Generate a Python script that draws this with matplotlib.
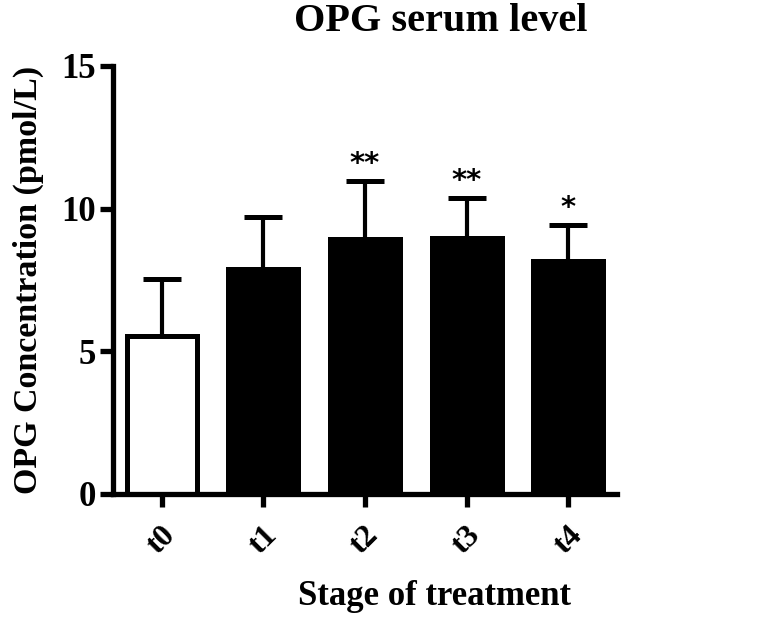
import matplotlib.pyplot as plt

# values
stages = ["t0", "t1", "t2", "t3", "t4"]
means = [5.55, 7.9, 8.95, 8.98, 8.17]
sd_upper = [2.0, 1.82, 2.02, 1.38, 1.26]
marks = ["", "", "**", "**", "*"]
fills = ["white", "black", "black", "black", "black"]

plt.rcParams["font.family"] = "Liberation Serif"
plt.rcParams["font.weight"] = "bold"

fig = plt.figure(figsize=(7.6, 6.19), dpi=100)
ax = fig.add_axes([113 / 760, 125 / 619, (617 - 113) / 760, (494 - 66) / 619])

x = list(range(len(stages)))
ax.bar(x, means, width=0.69, color=fills, edgecolor="black", linewidth=3.6, zorder=2)
ax.errorbar(x, means, yerr=[[0] * len(x), sd_upper], fmt="none", ecolor="black",
            elinewidth=3, capsize=13.5, capthick=3.6, zorder=1)

for xi, m, s, lab in zip(x, means, sd_upper, marks):
    if lab:
        ax.text(xi, m + s + 0.12, lab, ha="center", va="bottom", fontsize=21,
                fontweight="bold", family="DejaVu Sans")

ax.set_xlim(-0.48, 4.48)
ax.set_ylim(0, 15)
ax.set_yticks([0, 5, 10, 15])
ax.set_xticks(x)
ax.set_xticklabels(stages, rotation=45, ha="center", fontsize=23)

for side in ["top", "right"]:
    ax.spines[side].set_visible(False)
for side in ["left", "bottom"]:
    ax.spines[side].set_linewidth(3.8)
ax.tick_params(axis="both", width=3.8, length=9.5)
ax.tick_params(axis="y", labelsize=25, pad=3)
ax.tick_params(axis="x", pad=10)

ax.set_title("OPG serum level", fontsize=29, fontweight="bold", pad=25,
             x=(441 - 113) / 504)
ax.set_ylabel("OPG Concentration (pmol/L)", fontsize=24.5, fontweight="bold",
              labelpad=12)
ax.set_xlabel("Stage of treatment", fontsize=25, fontweight="bold", labelpad=14,
              x=(435 - 113) / 504)

fig.savefig("out.png", dpi=100)
